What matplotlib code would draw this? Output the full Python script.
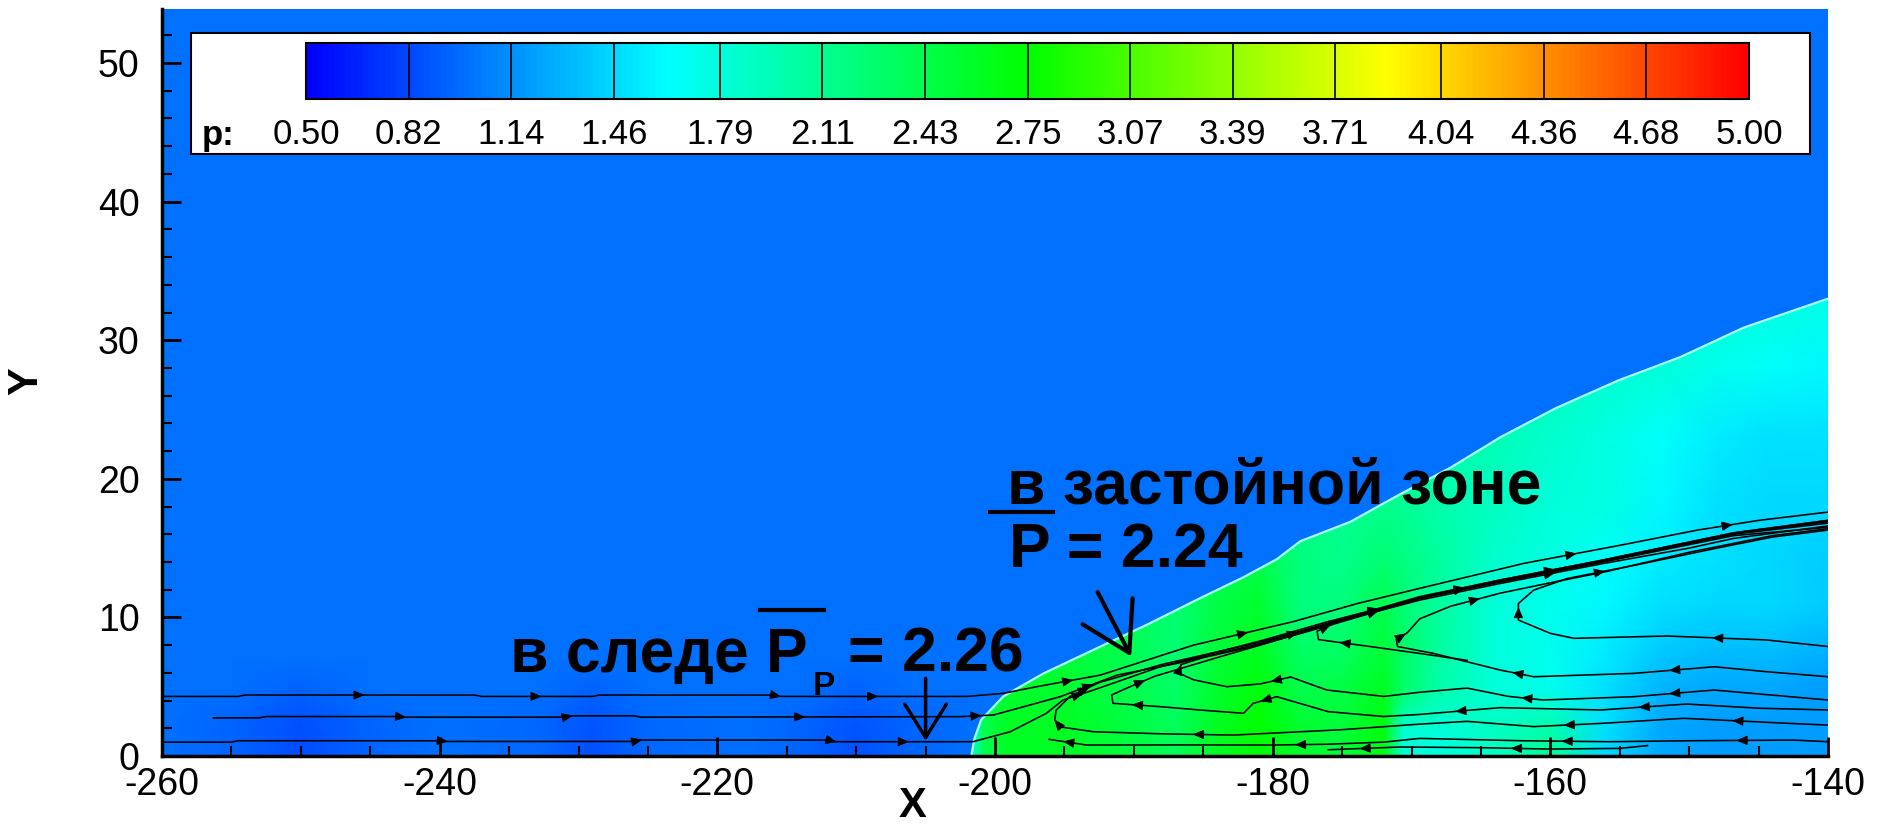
import numpy as np
import matplotlib
matplotlib.use("Agg")
from matplotlib import pyplot as plt
from matplotlib.colors import LinearSegmentedColormap, Normalize
from matplotlib.patches import Polygon, Rectangle, FancyArrowPatch
from matplotlib.ticker import MultipleLocator
import matplotlib.cm as cm

plt.rcParams['font.family'] = ['Liberation Sans', 'DejaVu Sans']
plt.rcParams['axes.unicode_minus'] = False

# ---- colour scale (p) ----
p_min, p_max = 0.5, 5.0
p_free = 1.0
cbar_ticks = [0.50, 0.82, 1.14, 1.46, 1.79, 2.11, 2.43, 2.75,
              3.07, 3.39, 3.71, 4.04, 4.36, 4.68, 5.00]

# ---- shock front (x, y) ----
shock_x = [-201.7, -201.5, -201.0, -199.4, -196.5, -192.4, -189.1, -185.2, -182.1, -179.7,
           -178.0, -174.4, -170.8, -167.2, -163.6, -159.6, -155.1, -150.6, -146.1, -140.0]
shock_y = [0.0, 1.2, 2.6, 4.3, 5.96, 7.9, 9.45, 11.4, 12.9, 14.2,
           15.5, 16.9, 18.9, 20.8, 23.0, 25.1, 27.1, 28.8, 30.9, 33.0]

# ---- pressure behind the shock (rows = field_y, cols = field_x) ----
field_x = [-202, -200.8, -199, -195, -191, -187, -184, -181, -178, -175,
           -172, -170.6, -168, -164, -160, -156, -152, -148, -144, -140]
field_y = [0, 2, 5, 8, 11, 14, 18, 23, 28, 34]
field_p = [
    [1.6, 2.4, 2.6, 2.6, 2.5, 2.35, 2.6, 2.75, 2.55, 2.5, 2.7, 1.8, 1.75, 1.9, 2.1, 1.45, 1.25, 1.2, 1.2, 1.2],
    [1.6, 2.4, 2.6, 2.6, 2.5, 2.35, 2.6, 2.75, 2.55, 2.5, 2.7, 1.85, 1.8, 1.9, 2.0, 1.5, 1.25, 1.2, 1.2, 1.2],
    [1.7, 2.4, 2.55, 2.55, 2.45, 2.3, 2.55, 2.7, 2.4, 2.45, 2.6, 2.3, 2.0, 1.8, 1.7, 1.5, 1.3, 1.25, 1.25, 1.2],
    [1.8, 2.4, 2.5, 2.5, 2.4, 2.25, 2.5, 2.6, 2.3, 2.3, 2.5, 2.3, 2.05, 1.8, 1.7, 1.55, 1.4, 1.35, 1.35, 1.3],
    [1.9, 2.4, 2.45, 2.45, 2.4, 2.25, 2.45, 2.55, 2.2, 2.2, 2.4, 2.25, 2.05, 1.8, 1.7, 1.6, 1.5, 1.45, 1.45, 1.4],
    [2.0, 2.4, 2.4, 2.4, 2.35, 2.25, 2.4, 2.45, 2.2, 2.15, 2.25, 2.2, 2.05, 1.85, 1.75, 1.65, 1.55, 1.5, 1.45, 1.4],
    [2.1, 2.35, 2.35, 2.35, 2.3, 2.25, 2.35, 2.4, 2.2, 2.1, 2.15, 2.1, 2.0, 1.9, 1.8, 1.75, 1.6, 1.5, 1.45, 1.45],
    [2.2, 2.3, 2.3, 2.3, 2.3, 2.25, 2.3, 2.35, 2.2, 2.1, 2.1, 2.05, 2.0, 1.95, 1.85, 1.75, 1.65, 1.55, 1.5, 1.5],
    [2.2, 2.3, 2.3, 2.3, 2.3, 2.25, 2.3, 2.3, 2.2, 2.1, 2.1, 2.05, 2.0, 2.0, 1.95, 1.85, 1.8, 1.7, 1.65, 1.6],
    [2.2, 2.3, 2.3, 2.3, 2.3, 2.25, 2.3, 2.3, 2.2, 2.1, 2.1, 2.05, 2.05, 2.05, 2.0, 1.95, 1.9, 1.85, 1.8, 1.75],
]

# ---- faint low-pressure spots in the wake upstream of the shock ----
wake_x = [-260, -255, -250, -245, -240, -233, -229, -225, -218, -214, -210, -206, -202]
wake_y = [0, 2.5, 5, 7]
wake_p = [
    [1.0, 0.95, 0.85, 0.95, 1.0, 0.96, 0.86, 0.96, 1.0, 0.95, 0.86, 0.95, 1.0],
    [1.0, 0.95, 0.86, 0.95, 1.0, 0.96, 0.87, 0.96, 1.0, 0.95, 0.87, 0.95, 1.0],
    [1.0, 1.0, 0.94, 1.0, 1.0, 1.0, 0.94, 1.0, 1.0, 1.0, 0.94, 1.0, 1.0],
    [1.0, 1.0, 1.0, 1.0, 1.0, 1.0, 1.0, 1.0, 1.0, 1.0, 1.0, 1.0, 1.0],
]

# ---- streamlines, points listed in flow direction ----
line_u1 = [(-260, 4.3), (-254.5, 4.3), (-254, 4.4), (-237.5, 4.4), (-237, 4.3), (-229, 4.3),
           (-228.5, 4.4), (-216, 4.4), (-215.5, 4.3), (-202, 4.3), (-199.4, 4.52), (-197.0, 5.0),
           (-192.4, 5.84), (-185.7, 8.0), (-178.5, 9.7), (-173.9, 11.0), (-169.4, 12.1),
           (-161.9, 13.9), (-155, 15.2), (-149.4, 16.3), (-145, 17.0), (-140, 17.6)]
line_u2 = [(-256.3, 2.75), (-253, 2.75), (-252.5, 2.85), (-243, 2.85), (-242.5, 2.8), (-231, 2.8),
           (-230.5, 2.9), (-226, 2.9), (-225.5, 2.8), (-202.5, 2.84), (-200.1, 2.96), (-195.3, 4.28),
           (-191.2, 5.84), (-186.9, 6.68), (-180.9, 8.12), (-176.1, 9.57), (-169.4, 11.5),
           (-163.6, 12.7), (-156.4, 14.1), (-146.8, 16.1), (-140, 17.0)]
line_u3 = [(-260, 1.0), (-255, 1.0), (-254.5, 1.1), (-240, 1.1), (-239.5, 1.05), (-226, 1.05),
           (-225.5, 1.15), (-212, 1.15), (-211.5, 1.03), (-201.6, 1.03), (-198.9, 1.75),
           (-196.3, 3.08), (-195.1, 4.04), (-192.9, 4.76), (-188.1, 6.44), (-180.9, 8.3),
           (-176, 9.7), (-169.4, 11.4), (-163.6, 12.55), (-156.4, 13.95), (-146.8, 15.9), (-140, 16.5)]
line_r1 = [(-140, 7.9), (-144.4, 8.37), (-151.6, 8.66), (-158.3, 8.49), (-160, 8.85), (-162.3, 9.81),
           (-162.3, 11.0), (-161.2, 11.97), (-158.8, 12.8), (-154, 13.75), (-148, 15.0),
           (-144, 15.8), (-140, 16.3)]
line_r2 = [(-140, 5.72), (-144.4, 6.08), (-148.2, 6.44), (-154, 5.96), (-161.2, 5.72), (-163.6, 6.2),
           (-168.4, 7.4), (-171.0, 7.9), (-171.1, 8.4), (-170.3, 8.9), (-169.4, 9.9), (-167.2, 10.8),
           (-163.6, 11.75), (-160, 12.5), (-156, 13.3), (-150, 14.7), (-144, 15.9), (-140, 16.4)]
line_r2b = [(-166, 6.9), (-169.4, 7.4), (-173, 7.9), (-176.7, 8.4), (-176.8, 9.0), (-175.5, 9.6),
            (-173, 10.3), (-169.4, 11.25), (-163.6, 12.45), (-156.4, 13.85), (-150, 15.0),
            (-146.8, 15.7), (-140, 16.6)]
line_r3 = [(-140, 4.04), (-148.2, 4.76), (-154, 4.28), (-160.5, 4.04), (-163, 4.3), (-166, 4.9),
           (-169.4, 4.6), (-172, 4.3), (-176.1, 4.76), (-178.7, 5.7), (-180.9, 5.2), (-183.3, 5.0),
           (-185.7, 5.5), (-186.8, 6.0), (-186.6, 6.6), (-185, 7.1), (-181, 8.0), (-176, 9.4),
           (-169.4, 11.35), (-163.6, 12.6), (-156.4, 14.0), (-146.8, 16.0), (-140, 16.8)]
line_r4 = [(-140, 3.32), (-145, 3.45), (-150.2, 3.75), (-156.4, 3.32), (-163.6, 3.49), (-169.4, 3.0),
           (-172, 2.85), (-176, 3.2), (-179.7, 4.28), (-181.4, 3.8), (-182.1, 3.08), (-185, 3.3),
           (-188.1, 3.56), (-191.5, 3.8), (-191.6, 4.4), (-190.5, 4.9), (-188.5, 5.75), (-184, 7.1),
           (-180.9, 8.0), (-176.1, 9.45), (-169.4, 11.4), (-163.6, 12.65), (-156.4, 14.05),
           (-146.8, 16.05), (-140, 16.9)]
line_r5 = [(-140, 2.23), (-142.7, 2.35), (-150.4, 2.72), (-156.2, 2.36), (-161.2, 2.12), (-166, 2.5),
           (-169.4, 2.3), (-175, 1.9), (-182.8, 1.51), (-188, 1.6), (-192.9, 1.75), (-195.3, 2.1),
           (-195.7, 2.6), (-195.6, 3.3), (-194.6, 4.3), (-192.5, 5.3), (-188, 6.6), (-181, 8.2),
           (-176.1, 9.5), (-169.4, 11.45), (-163.6, 12.7), (-156.4, 14.1), (-146.8, 16.1), (-140, 17.0)]
line_r6 = [(-140, 1.03), (-142.5, 1.15), (-150, 1.1), (-155.7, 1.03), (-162, 1.1), (-169.4, 1.27),
           (-172, 1.0), (-176, 0.85), (-180.1, 0.79), (-186, 0.8), (-193.4, 0.79), (-196.1, 1.2)]
line_r7 = [(-153, 0.75), (-155, 0.55), (-160, 0.5), (-165, 0.6), (-170.8, 0.65), (-176, 0.45)]

streamlines = [line_u1, line_u2, line_u3, line_r1, line_r2, line_r2b,
               line_r3, line_r4, line_r5, line_r6, line_r7]
# segment indices that carry a direction arrow
arrow_segs = [[2, 4, 7, 8, 11, 13, 17, 19],
              [3, 5, 8, 9, 11, 14, 17],
              [3, 5, 7, 8, 12, 16],
              [1, 5, 8],
              [2, 4, 8, 11],
              [2, 4, 8],
              [1, 3, 9, 13, 17],
              [2, 4, 8, 12, 15, 20],
              [1, 3, 8, 11, 14, 19],
              [1, 3, 7, 10],
              [2, 4]]


###############
#function: add_arrow
#description: puts a small filled arrow head in the middle of a streamline segment
###############
def add_arrow(ax, p0, p1):
    p0 = np.array(p0, dtype=float)
    p1 = np.array(p1, dtype=float)
    mid = (p0 + p1) / 2
    d = (p1 - p0) / np.hypot(*(p1 - p0))
    arr = FancyArrowPatch(posA=mid - 0.35 * d, posB=mid + 0.35 * d,
                          arrowstyle='-|>,head_length=0.7,head_width=0.3',
                          mutation_scale=10, color='black', lw=0.6,
                          shrinkA=0, shrinkB=0, zorder=4)
    ax.add_patch(arr)


cmap = LinearSegmentedColormap.from_list(
    'tp_rainbow', ['#0000ff', '#00ffff', '#00ff00', '#ffff00', '#ff0000'])
norm = Normalize(p_min, p_max)

fig = plt.figure(figsize=(18.8, 8.24), dpi=100)
ax = fig.add_axes([162 / 1880, 1 - 756 / 824, 1666 / 1880, 747 / 824])
ax.set_facecolor(cmap(norm(p_free)))
ax.set_xlim(-260, -140)
ax.set_ylim(0, 53.9)

# wake spots
wx, wy = np.meshgrid(wake_x, wake_y)
ax.pcolormesh(wx, wy, np.array(wake_p), cmap=cmap, norm=norm, shading='gouraud', zorder=1)

# shock layer, clipped by the shock front
fx, fy = np.meshgrid(field_x, field_y)
mesh = ax.pcolormesh(fx, fy, np.array(field_p), cmap=cmap, norm=norm, shading='gouraud', zorder=1)
clip_verts = list(zip(shock_x, shock_y)) + [(-139.5, 33.0), (-139.5, -0.5), (-201.7, -0.5)]
clip_poly = Polygon(clip_verts, closed=True, fill=False, lw=0)
ax.add_patch(clip_poly)
mesh.set_clip_path(clip_poly)
ax.plot(shock_x, shock_y, color='#a8ffff', lw=1.6, zorder=2)

# streamlines
for pts, segs in zip(streamlines, arrow_segs):
    xs = [p[0] for p in pts]
    ys = [p[1] for p in pts]
    ax.plot(xs, ys, color='black', lw=1.15, zorder=3)
    for i in segs:
        add_arrow(ax, pts[i], pts[i + 1])

# annotations
txt_kw = dict(fontsize=45, fontweight='bold', color='black', va='baseline', zorder=6)
ax.text(-199.1, 18.25, 'в застойной зоне', **txt_kw)
ax.text(-199.0, 13.64, 'P = 2.24', **txt_kw)
ax.plot([-200.35, -195.8], [17.6, 17.6], color='black', lw=3, zorder=6)
ax.annotate('', xy=(-190.1, 7.0), xytext=(-192.7, 12.0),
            arrowprops=dict(arrowstyle='->,head_length=0.75,head_width=0.45',
                            mutation_scale=45, lw=3, color='black'), zorder=6)

ax.text(-234.9, 6.1, 'в следе P', **txt_kw)
ax.text(-213.1, 4.4, 'P', fontsize=24, fontweight='bold', va='baseline', zorder=6)
ax.text(-210.6, 6.1, '= 2.26', **txt_kw)
ax.plot([-216.9, -212.3], [10.5, 10.5], color='black', lw=3, zorder=6)
ax.annotate('', xy=(-205.0, 0.9), xytext=(-205.0, 5.8),
            arrowprops=dict(arrowstyle='->,head_length=0.8,head_width=0.5',
                            mutation_scale=30, lw=2.5, color='black'), zorder=6)

# axes styling
ax.set_xticks(range(-260, -139, 20))
ax.set_yticks(range(0, 51, 10))
ax.xaxis.set_minor_locator(MultipleLocator(5))
ax.yaxis.set_minor_locator(MultipleLocator(2))
ax.tick_params(which='both', direction='in', top=False, right=False, labelsize=27)
ax.tick_params(which='major', length=14, width=2)
ax.tick_params(which='minor', length=7, width=1.5)
ax.tick_params(axis='x', pad=8)
ax.tick_params(axis='y', pad=16)
for s in ['top', 'right']:
    ax.spines[s].set_visible(False)
for s in ['left', 'bottom']:
    ax.spines[s].set_linewidth(2.5)

fig.text(913 / 1880, 1 - 806 / 824, 'X', fontsize=30, fontweight='bold', ha='center', va='center')
fig.text(26 / 1880, 1 - 381 / 824, 'Y', fontsize=30, fontweight='bold', ha='center', va='center',
         rotation=90)

# legend box with colour bar
box = Rectangle((191 / 1880, 1 - 154 / 824), 1619 / 1880, 121 / 824, transform=fig.transFigure,
                facecolor='white', edgecolor='black', lw=1.5, zorder=5)
fig.add_artist(box)
cax = fig.add_axes([306 / 1880, 1 - 99 / 824, 1443 / 1880, 56 / 824])
cax.set_zorder(6)
sm = cm.ScalarMappable(norm=norm, cmap=cmap)
cbar = fig.colorbar(sm, cax=cax, orientation='horizontal', ticks=cbar_ticks)
cbar.outline.set_linewidth(1.5)
for v in cbar_ticks:
    cax.axvline(v, color='black', lw=1.2)
cbar.set_ticklabels(['%.2f' % v for v in cbar_ticks])
cax.tick_params(length=0, pad=14, labelsize=25)
fig.text(202 / 1880, 1 - 145 / 824, 'p:', fontsize=25, fontweight='bold', va='baseline', zorder=7)

fig.savefig('out.png', dpi=100)
